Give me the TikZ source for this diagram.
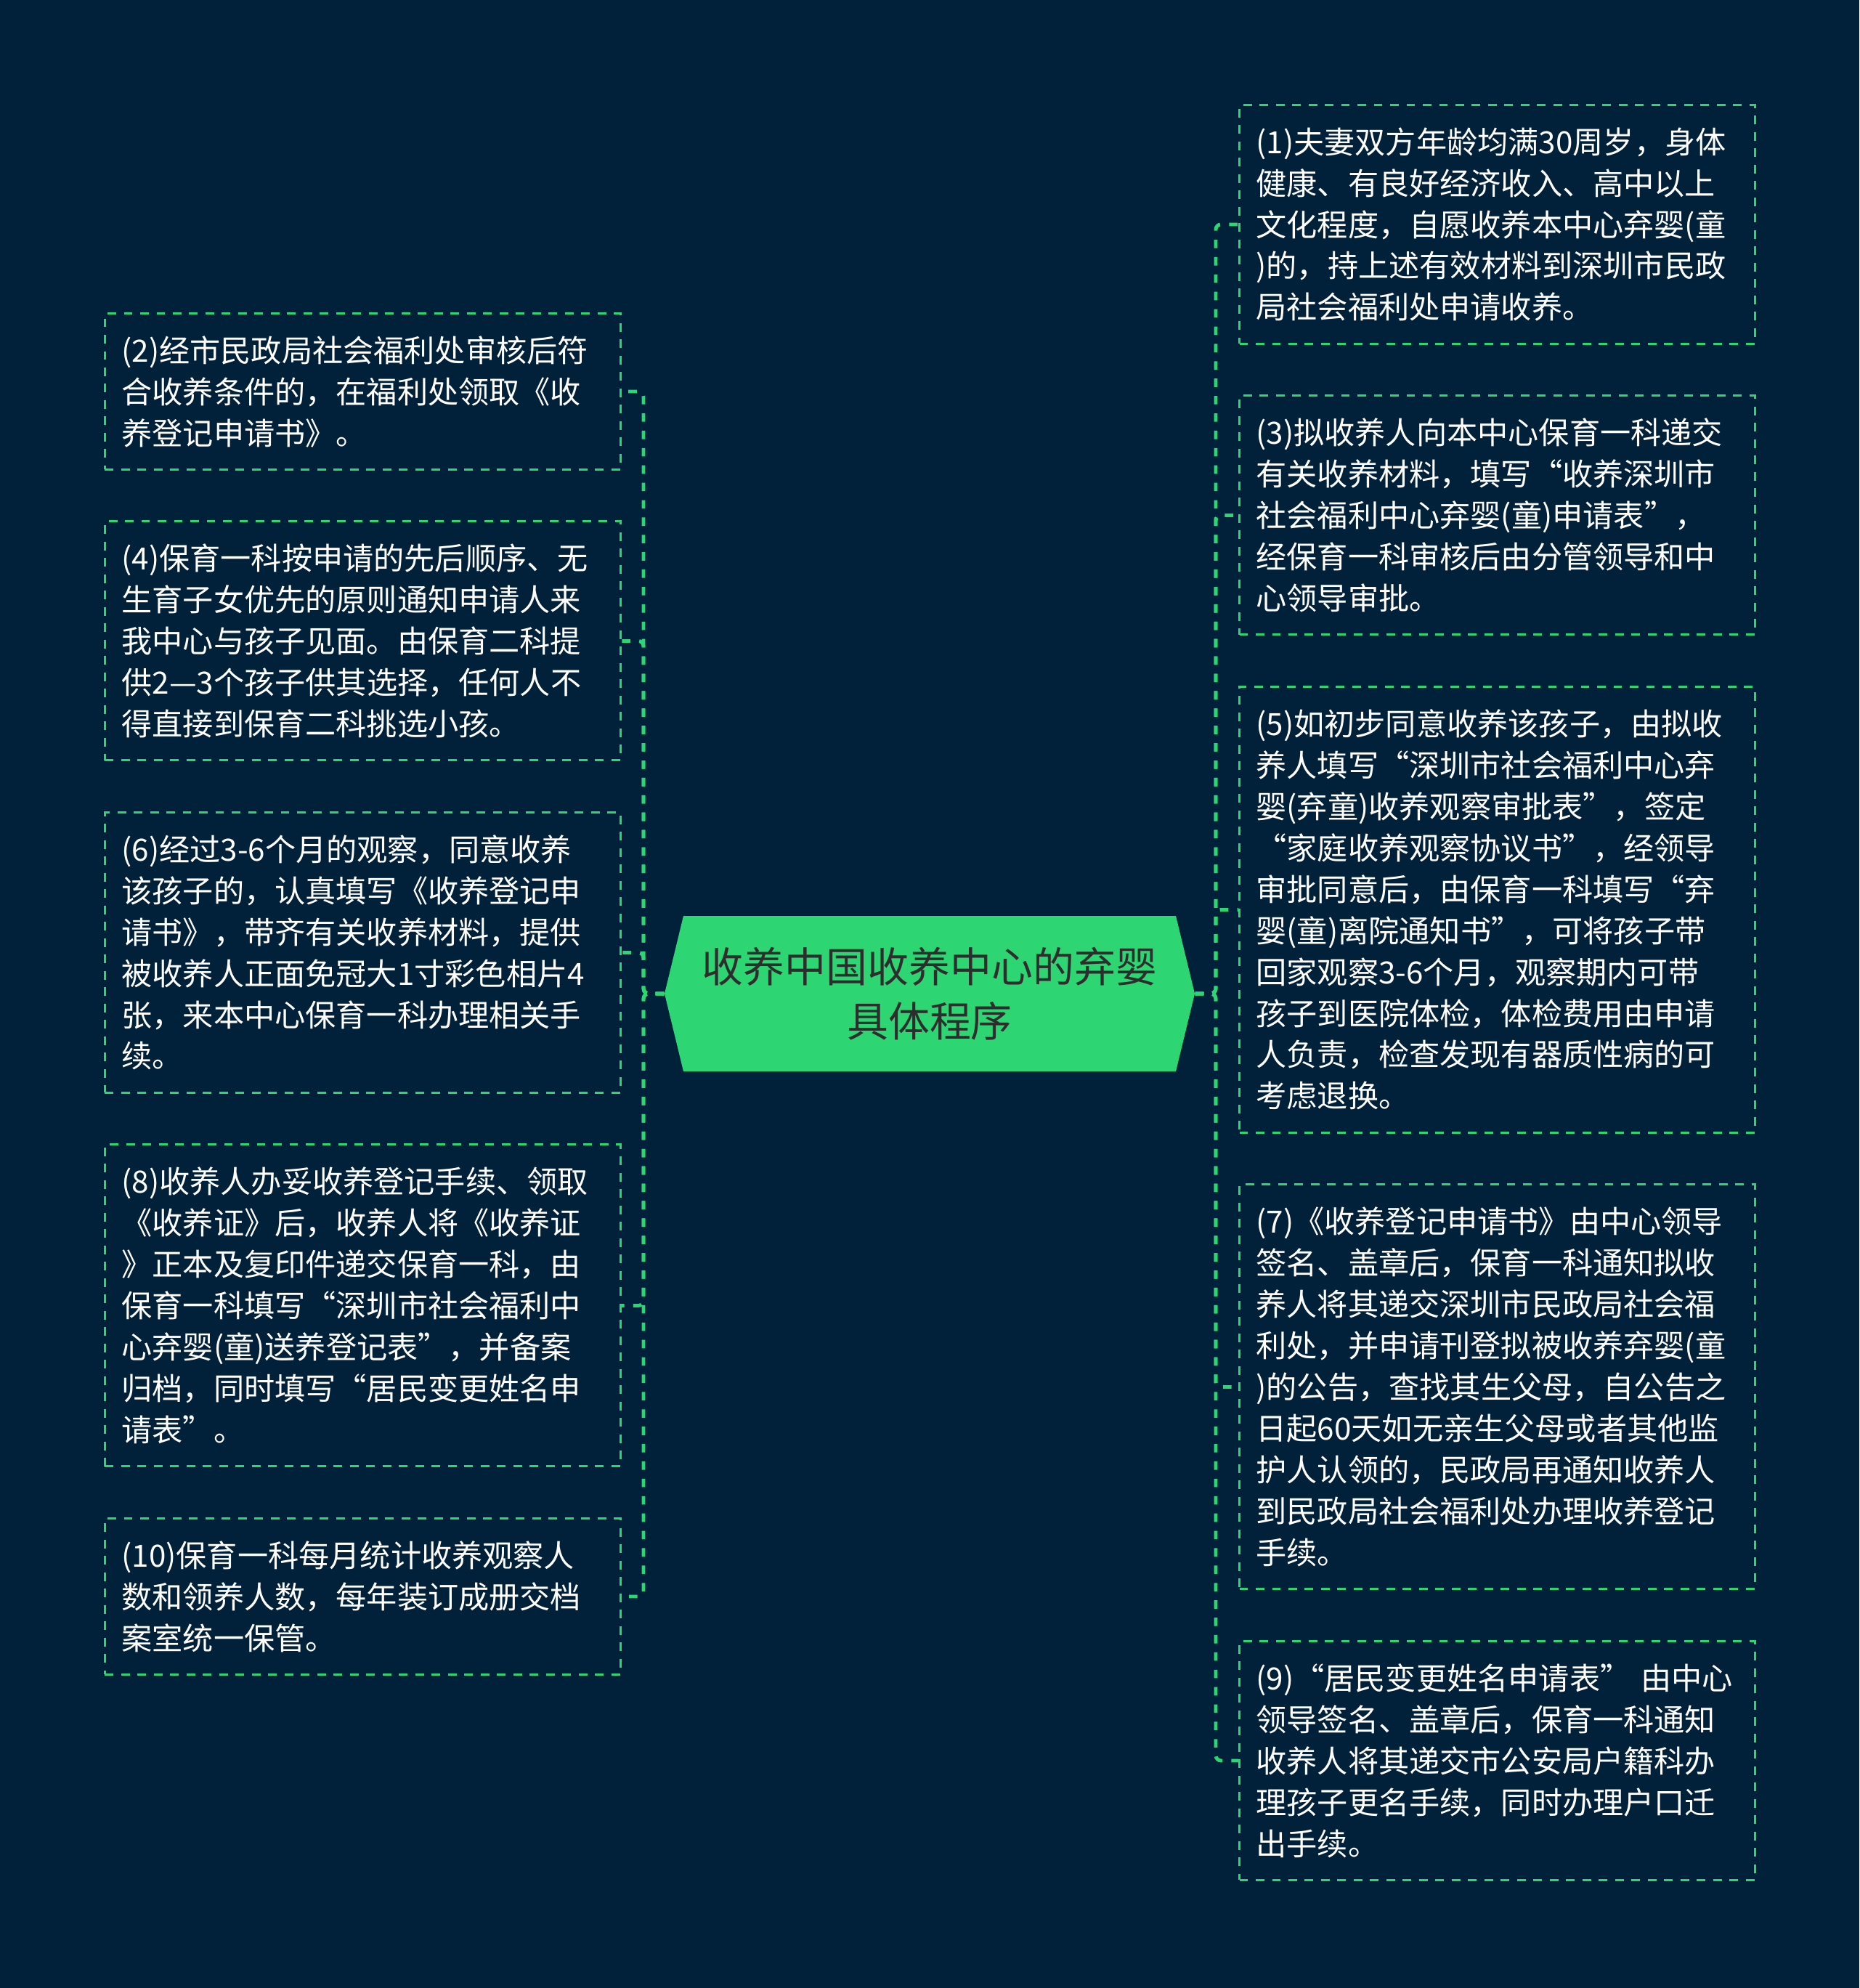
\documentclass[tikz,border=0pt]{standalone}
\usepackage{fontspec}
\setmainfont{Noto Sans CJK SC}
\usepackage{tikz}
\usetikzlibrary{positioning}
\definecolor{bgnavy}{RGB}{1,33,59}
\definecolor{leafgreen}{RGB}{46,213,115}
\definecolor{hubtext}{RGB}{45,45,45}
\tikzset{
  leaf/.style={draw=leafgreen, dash pattern=on 3.4pt off 3pt, line width=0.85pt,
    text=white, align=left, text width=6.64cm, inner xsep=0.23cm, inner ysep=0pt,
    minimum height=#1, font=\fontsize{12pt}{16.2pt}\selectfont},
  link/.style={draw=leafgreen, dash pattern=on 3.3pt off 3.5pt, line width=1.4pt, rounded corners=2pt},
  hubbox/.style={minimum width=7.30cm, minimum height=2.14cm, inner sep=0pt, align=center,
    text=hubtext, font=\fontsize{16.2pt}{21.3pt}\selectfont,
    path picture={\fill[leafgreen]
      ([xshift=0.26cm]path picture bounding box.north west) -- ([xshift=-0.26cm]path picture bounding box.north east)
      -- (path picture bounding box.east) -- ([xshift=-0.26cm]path picture bounding box.south east)
      -- ([xshift=0.26cm]path picture bounding box.south west) -- (path picture bounding box.west) -- cycle;}}
}
\begin{document}
\begin{tikzpicture}[node distance=0.685cm]
      \path[use as bounding box, fill=bgnavy] (0,0) rectangle (25.60,-27.37);

      \node(hub) [hubbox] at (12.80,-13.68) {收养中国收养中心的弃婴\\具体程序};
      \coordinate(ltrunk) at (8.86,-13.68);
      \coordinate(rtrunk) at (16.74,-13.68);

      % left side
      \node(b2) [leaf=2.15cm, anchor=north west] at (1.43,-4.30) {(2)经市民政局社会福利处审核后符\\合收养条件的，在福利处领取《收\\养登记申请书》。};
      \node(b4) [leaf=3.29cm, below=of b2] {(4)保育一科按申请的先后顺序、无\\生育子女优先的原则通知申请人来\\我中心与孩子见面。由保育二科提\\供2—3个孩子供其选择，任何人不\\得直接到保育二科挑选小孩。};
      \node(b6) [leaf=3.86cm, below=of b4] {(6)经过3-6个月的观察，同意收养\\该孩子的，认真填写《收养登记申\\请书》，带齐有关收养材料，提供\\被收养人正面免冠大1寸彩色相片4\\张，来本中心保育一科办理相关手\\续。};
      \node(b8) [leaf=4.43cm, below=of b6] {(8)收养人办妥收养登记手续、领取\\《收养证》后，收养人将《收养证\\》正本及复印件递交保育一科，由\\保育一科填写“深圳市社会福利中\\心弃婴(童)送养登记表”，并备案\\归档，同时填写“居民变更姓名申\\请表”。};
      \node(b10) [leaf=2.15cm, below=of b8] {(10)保育一科每月统计收养观察人\\数和领养人数，每年装订成册交档\\案室统一保管。};

      % right side
      \node(b1) [leaf=3.29cm, anchor=north west] at (17.05,-1.43) {(1)夫妻双方年龄均满30周岁，身体\\健康、有良好经济收入、高中以上\\文化程度，自愿收养本中心弃婴(童\\)的，持上述有效材料到深圳市民政\\局社会福利处申请收养。};
      \node(b3) [leaf=3.29cm, below=of b1] {(3)拟收养人向本中心保育一科递交\\有关收养材料，填写“收养深圳市\\社会福利中心弃婴(童)申请表”，\\经保育一科审核后由分管领导和中\\心领导审批。};
      \node(b5) [leaf=6.14cm, below=of b3] {(5)如初步同意收养该孩子，由拟收\\养人填写“深圳市社会福利中心弃\\婴(弃童)收养观察审批表”，签定\\“家庭收养观察协议书”，经领导\\审批同意后，由保育一科填写“弃\\婴(童)离院通知书”，可将孩子带\\回家观察3-6个月，观察期内可带\\孩子到医院体检，体检费用由申请\\人负责，检查发现有器质性病的可\\考虑退换。};
      \node(b7) [leaf=5.57cm, below=of b5] {(7)《收养登记申请书》由中心领导\\签名、盖章后，保育一科通知拟收\\养人将其递交深圳市民政局社会福\\利处，并申请刊登拟被收养弃婴(童\\)的公告，查找其生父母，自公告之\\日起60天如无亲生父母或者其他监\\护人认领的，民政局再通知收养人\\到民政局社会福利处办理收养登记\\手续。};
      \node(b9) [leaf=3.29cm, below=of b7] {(9)“居民变更姓名申请表”~由中心\\领导签名、盖章后，保育一科通知\\收养人将其递交市公安局户籍科办\\理孩子更名手续，同时办理户口迁\\出手续。};

      \foreach \b in {b2,b4,b6,b8,b10}
        \draw[link] (hub.west) -- (ltrunk) |- (\b.east);
      \foreach \b in {b1,b3,b5,b7,b9}
        \draw[link] (hub.east) -- (rtrunk) |- (\b.west);
\end{tikzpicture}
\end{document}
